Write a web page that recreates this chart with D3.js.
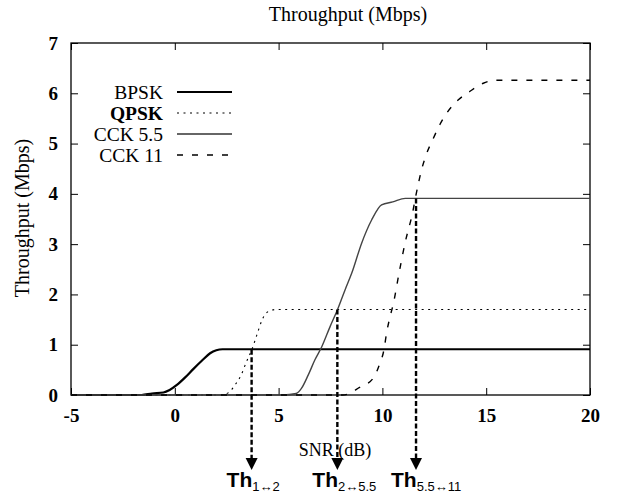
<!DOCTYPE html>
<html><head><meta charset="utf-8">
<script src="https://cdn.jsdelivr.net/npm/d3@7"></script>
<style>
body{margin:0;background:#fff}
.serif{font-family:"Liberation Serif","Times New Roman",Times,serif}
.sans{font-family:"Liberation Sans",Arial,Helvetica,sans-serif}
</style>
</head><body>
<svg id="c" width="622" height="498"></svg>
<script>
// ---- data ----
const seriesNames = ["BPSK", "QPSK", "CCK 5.5", "CCK 11"];
const snrBPSK = [-5, -1.6, -1.1, -0.55, -0.25, 0.1, 0.5, 0.9, 1.3, 1.7, 2.0, 2.3, 20];
const thrBPSK = [0, 0, 0.03, 0.05, 0.1, 0.2, 0.35, 0.52, 0.68, 0.83, 0.89, 0.91, 0.91];
const snrQPSK = [-5, 2.2, 2.6, 2.9, 3.2, 3.45, 3.7, 3.95, 4.2, 4.6, 4.9, 20];
const thrQPSK = [0, 0, 0.05, 0.2, 0.4, 0.66, 0.89, 1.19, 1.49, 1.68, 1.70, 1.70];
const snrCCK55 = [-5, 5.2, 5.85, 6.1, 6.43, 6.75, 7.08, 7.48, 7.83, 8.2, 8.52, 9.0, 9.48, 9.96, 10.5, 11.1, 20];
const thrCCK55 = [0, 0, 0.03, 0.13, 0.40, 0.70, 0.96, 1.36, 1.69, 2.09, 2.42, 3.02, 3.48, 3.78, 3.84, 3.91, 3.91];
const snrCCK11 = [-5, 8.1, 8.9, 9.55, 9.88, 10.07, 10.2, 10.37, 10.53, 10.8, 11.09, 11.46, 11.6, 11.92, 12.13, 12.45, 12.77, 13.14, 13.66, 14.22, 14.86, 15.5, 20];
const thrCCK11 = [0, 0, 0.15, 0.33, 0.63, 0.89, 1.23, 1.56, 1.82, 2.42, 3.02, 3.64, 3.94, 4.53, 4.80, 5.10, 5.38, 5.63, 5.87, 6.04, 6.20, 6.26, 6.26];
const thSnr = [3.7, 7.83, 11.62];
const thLevel = [0.9, 1.7, 3.91];
const thSub = ["1\u21942", "2\u21945.5", "5.5\u219411"];
const xTicks = [-5, 0, 5, 10, 15, 20];
const yTicks = [0, 1, 2, 3, 4, 5, 6, 7];

// ---- layout ----
const L = 71, R = 590, T = 43, B = 395;
const svg = d3.select("#c");
const x = d3.scaleLinear().domain([-5, 20]).range([L, R]);
const y = d3.scaleLinear().domain([0, 7]).range([B, T]);

const styles = [
  {stroke: "#000", width: 2.2, dash: null},
  {stroke: "#000", width: 1.1, dash: "2,4.5"},
  {stroke: "#444", width: 1.4, dash: null},
  {stroke: "#000", width: 1.4, dash: "6,9"}
];
const seriesData = [
  d3.zip(snrBPSK, thrBPSK),
  d3.zip(snrQPSK, thrQPSK),
  d3.zip(snrCCK55, thrCCK55),
  d3.zip(snrCCK11, thrCCK11)
];

// axes
function styleAxis(g) {
  g.attr("font-family", null).attr("font-size", null);
  g.select(".domain").remove();
  g.selectAll("line").attr("stroke", "#000").attr("stroke-width", 1);
  g.selectAll("text").attr("class", "serif").style("font-weight", "bold")
    .style("font-size", "19px").attr("fill", "#000");
}
svg.append("g").attr("transform", `translate(0,${B})`)
  .call(d3.axisBottom(x).tickValues(xTicks).tickSizeInner(-7).tickSizeOuter(0).tickPadding(14).tickFormat(d => String(d)))
  .call(styleAxis);
svg.append("g").attr("transform", `translate(0,${T})`)
  .call(d3.axisTop(x).tickValues(xTicks).tickSizeInner(-7).tickSizeOuter(0).tickFormat(""))
  .call(styleAxis);
svg.append("g").attr("transform", `translate(${L},0)`)
  .call(d3.axisLeft(y).tickValues(yTicks).tickSizeInner(-7).tickSizeOuter(0).tickPadding(13).tickFormat(d => String(d)))
  .call(styleAxis);
svg.append("g").attr("transform", `translate(${R},0)`)
  .call(d3.axisRight(y).tickValues(yTicks).tickSizeInner(-7).tickSizeOuter(0).tickFormat(""))
  .call(styleAxis);

// border
svg.append("rect").attr("x", L).attr("y", T).attr("width", R - L).attr("height", B - T)
  .attr("fill", "none").attr("stroke", "#000").attr("stroke-width", 1.3);

// curves
const line = d3.line().x(d => x(d[0])).y(d => y(d[1])).curve(d3.curveMonotoneX);
seriesData.forEach((data, i) => {
  const s = styles[i];
  svg.append("path").datum(data).attr("d", line)
    .attr("fill", "none").attr("stroke", s.stroke).attr("stroke-width", s.width)
    .attr("stroke-dasharray", s.dash);
});

// legend
seriesNames.forEach((name, i) => {
  const cy = 92 + i * 21;
  svg.append("text").attr("class", "serif").attr("x", 163).attr("y", cy + 7).attr("text-anchor", "end")
    .style("font-size", "19.5px")
    .style("font-weight", i === 1 ? "bold" : "normal").text(name);
  const s = styles[i];
  svg.append("line").attr("x1", 177).attr("x2", 232).attr("y1", cy).attr("y2", cy)
    .attr("stroke", i === 2 ? "#666" : s.stroke).attr("stroke-width", i === 2 ? 2 : s.width)
    .attr("stroke-dasharray", s.dash);
});

// titles
svg.append("text").attr("class", "serif").attr("x", 348).attr("y", 20.5).attr("text-anchor", "middle")
  .style("font-size", "20px").text("Throughput (Mbps)");
svg.append("text").attr("class", "serif").attr("transform", "translate(28.5,218) rotate(-90)").attr("text-anchor", "middle")
  .style("font-size", "20px").text("Throughput (Mbps)");
svg.append("text").attr("class", "serif").attr("x", 335).attr("y", 456).attr("text-anchor", "middle")
  .style("font-size", "18px").text("SNR (dB)");

// threshold arrows
const arrowTop = 458, arrowTip = 470;
thSnr.forEach((s, i) => {
  const xp = x(s);
  svg.append("line").attr("x1", xp).attr("x2", xp).attr("y1", y(thLevel[i])).attr("y2", arrowTop + 1)
    .attr("stroke", "#000").attr("stroke-width", 2.4).attr("stroke-dasharray", "5,2.5");
  svg.append("path").attr("d", `M${xp - 6},${arrowTop}L${xp + 6},${arrowTop}L${xp},${arrowTip}Z`).attr("fill", "#000");
  const t = svg.append("text").attr("class", "sans").attr("x", xp - 25).attr("y", 487)
    .style("font-weight", "bold").style("font-size", "21px");
  t.append("tspan").text("Th");
  t.append("tspan").attr("dy", 4).style("font-size", "13px").style("font-weight", "normal").text(thSub[i]);
});
</script>
</body></html>
